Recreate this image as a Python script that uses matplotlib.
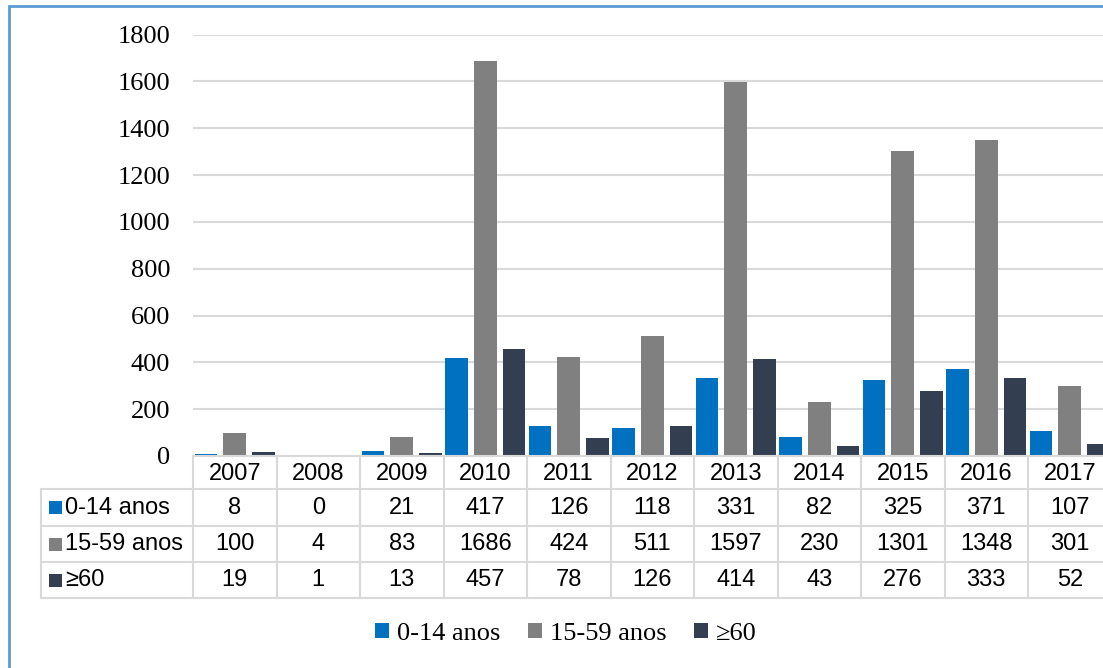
import matplotlib.pyplot as plt
from matplotlib.patches import Rectangle, Patch

# casos por faixa etária, 2007-2017
years = ['2007', '2008', '2009', '2010', '2011', '2012',
         '2013', '2014', '2015', '2016', '2017']
series_names = ['0-14 anos', '15-59 anos', '≥60']
age_0_14 = [8, 0, 21, 417, 126, 118, 331, 82, 325, 371, 107]
age_15_59 = [100, 4, 83, 1686, 424, 511, 1597, 230, 1301, 1348, 301]
age_60 = [19, 1, 13, 457, 78, 126, 414, 43, 276, 333, 52]
y_ticks = [0, 200, 400, 600, 800, 1000, 1200, 1400, 1600, 1800]

series = [age_0_14, age_15_59, age_60]
colors = ['#0070c0', '#808080', '#333f50']

SERIF = 'Liberation Serif'
SANS = 'Liberation Sans'
GRID = '#d9d9d9'

# ─── layout in pixels ─────────────────────────────────────────
W, H = 1103, 668
fig = plt.figure(figsize=(W / 100, H / 100), dpi=100)

def fx(px):
    return px / W

def fy(py):
    return 1 - py / H

n = len(years)
cat_w = 83.5          # width of one year column
x0 = 193              # left edge of plot area
x1 = x0 + cat_w * n   # runs a little past the right edge
y_zero, y_top = 456, 34.5
tab_left, tab_bottom = 41, 598

# ─── bars ─────────────────────────────────────────────────────
ax = fig.add_axes([fx(x0), fy(y_zero), (x1 - x0) / W, (y_zero - y_top) / H])
bar_w, step = 0.27, 0.344
idx = list(range(n))
for k, (vals, c) in enumerate(zip(series, colors)):
    ax.bar([i + (k - 1) * step for i in idx], vals, width=bar_w,
           color=c, zorder=3)

ax.set_xlim(-0.5, n - 0.5)
ax.set_ylim(y_ticks[0], y_ticks[-1])
ax.set_yticks(y_ticks)
ax.set_yticklabels([str(t) for t in y_ticks], fontfamily=SERIF, fontsize=19)
ax.set_xticks([])
ax.tick_params(axis='y', length=0, pad=16.5)
ax.yaxis.grid(True, color=GRID, lw=1.5)
ax.set_axisbelow(True)
for s in ax.spines.values():
    s.set_visible(False)

# ─── data table under the bars ────────────────────────────────
tax = fig.add_axes([fx(tab_left), fy(tab_bottom),
                    (x1 - tab_left) / W, (tab_bottom - y_zero) / H])
xmin = -0.5 - (x0 - tab_left) / cat_w
tax.set_xlim(xmin, n - 0.5)
tax.set_ylim(tab_bottom - y_zero, 0)
tax.axis('off')

rows = [0, 33, 70, 106, 142]
line_kw = dict(color=GRID, lw=1.5, clip_on=False, zorder=1)
tax.plot([-0.5, n - 0.5], [rows[0], rows[0]], **line_kw)
for r in rows[1:]:
    tax.plot([xmin, n - 0.5], [r, r], **line_kw)
tax.plot([xmin, xmin], [rows[1], rows[-1]], **line_kw)
for i in range(n + 1):
    tax.plot([i - 0.5, i - 0.5], [rows[0], rows[-1]], **line_kw)

cell_font = dict(family=SANS, fontsize=17, ha='center', va='center')
for i, yr in enumerate(years):
    tax.text(i, (rows[0] + rows[1]) / 2 + 1, yr, **cell_font)

for k, (name, vals, c) in enumerate(zip(series_names, series, colors)):
    yc = (rows[k + 1] + rows[k + 2]) / 2
    tax.add_patch(Rectangle((xmin + 8 / cat_w, yc - 6.5), 13 / cat_w, 13,
                            facecolor=c, edgecolor='none', clip_on=False))
    tax.text(xmin + 24 / cat_w, yc, name, family=SANS, fontsize=17,
             ha='left', va='center')
    for i, v in enumerate(vals):
        tax.text(i, yc, str(v), **cell_font)

# ─── legend ───────────────────────────────────────────────────
handles = [Patch(facecolor=c, edgecolor='none') for c in colors]
fig.legend(handles, series_names, loc='center',
           bbox_to_anchor=(fx(566), fy(634)), ncol=3, frameon=False,
           prop=dict(family=SERIF, size=19), handlelength=0.52,
           handleheight=0.52, handletextpad=0.3, columnspacing=1.05)

# outer frame of the chart
fig.add_artist(Rectangle((fx(9), -0.1), 2, fy(6) + 0.1, fill=False,
                         edgecolor='#5b9bd5', lw=2,
                         transform=fig.transFigure))

fig.savefig('out.png', dpi=100)
